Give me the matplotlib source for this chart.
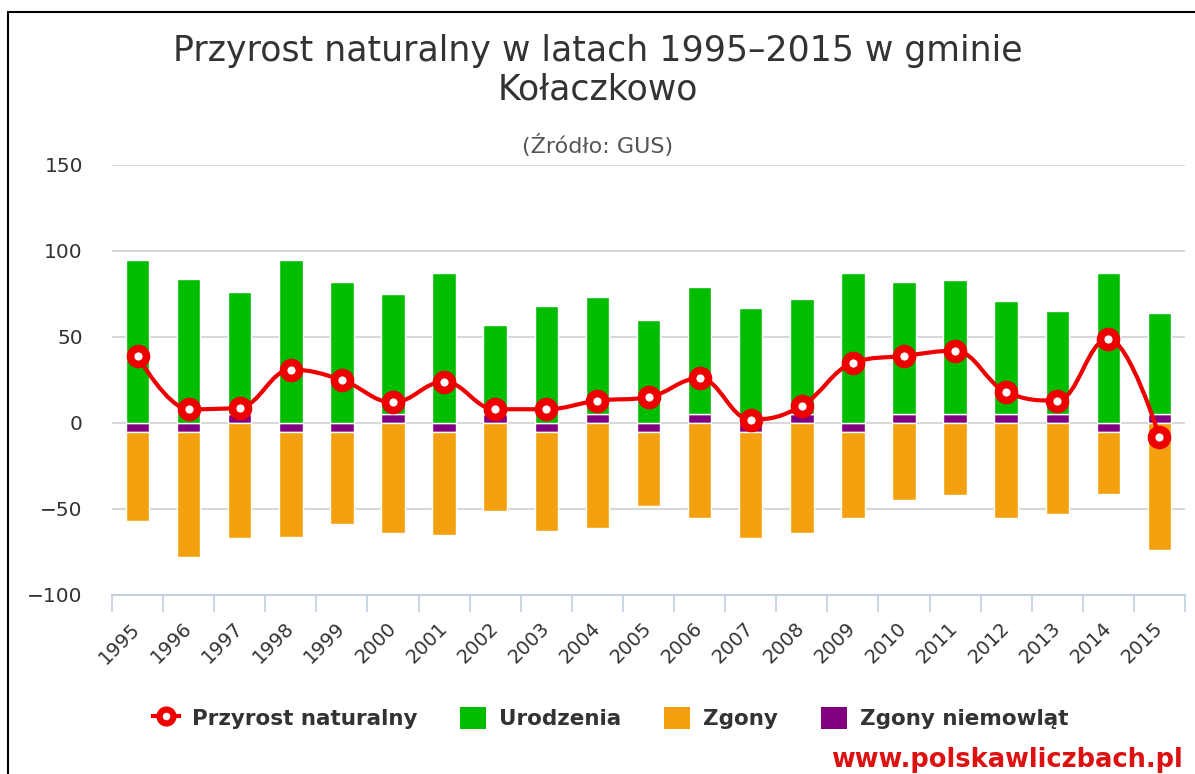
import numpy as np
import matplotlib.pyplot as plt
from matplotlib.path import Path
from matplotlib.patches import PathPatch, Patch, Rectangle
from matplotlib.lines import Line2D

# ===============================
#  DATA
# ===============================
lata = [str(r) for r in range(1995, 2016)]

urodzenia = [95, 84, 71, 95, 82, 70, 87, 52, 68, 68, 60,
             74, 67, 67, 87, 77, 78, 66, 60, 87, 59]
zgony = [-52, -73, -67, -61, -54, -64, -60, -51, -58, -61, -43,
         -55, -62, -64, -50, -45, -42, -55, -53, -36, -74]
# zgony niemowlat - drawn as small bars, above or below zero
zgony_niemowlat = [-5, -5, 5, -5, -5, 5, -5, 5, -5, 5, -5,
                   5, -5, 5, -5, 5, 5, 5, 5, -5, 5]
przyrost = [39, 8, 9, 31, 25, 12, 24, 8, 8, 13, 15,
            26, 2, 10, 35, 39, 42, 18, 13, 49, -8]

y_ticks = [-100, -50, 0, 50, 100, 150]

# ===============================
#  STYLE
# ===============================
GREEN = "#00bd00"
ORANGE = "#f5a00e"
PURPLE = "#800080"
RED = "#ee0000"
TEXT = "#333333"
GRID = "#d8d8d8"
AXIS = "#c0d0e0"


def spline_path(xs, ys, smoothing=1.5):
    """Highcharts-like spline through the points, as cubic bezier path"""
    n = len(xs)
    left = [(x, y) for x, y in zip(xs, ys)]
    right = [(x, y) for x, y in zip(xs, ys)]
    denom = smoothing + 1
    for i in range(1, n - 1):
        lx, ly = xs[i - 1], ys[i - 1]
        px, py = xs[i], ys[i]
        nx, ny = xs[i + 1], ys[i + 1]
        lcx = (smoothing * px + lx) / denom
        lcy = (smoothing * py + ly) / denom
        rcx = (smoothing * px + nx) / denom
        rcy = (smoothing * py + ny) / denom
        corr = (rcy - lcy) * (rcx - px) / (rcx - lcx) + py - rcy
        lcy += corr
        rcy += corr
        if lcy > ly and lcy > py:
            lcy = max(ly, py)
            rcy = 2 * py - lcy
        elif lcy < ly and lcy < py:
            lcy = min(ly, py)
            rcy = 2 * py - lcy
        if rcy > ny and rcy > py:
            rcy = max(ny, py)
            lcy = 2 * py - rcy
        elif rcy < ny and rcy < py:
            rcy = min(ny, py)
            lcy = 2 * py - rcy
        left[i] = (lcx, lcy)
        right[i] = (rcx, rcy)

    verts = [(xs[0], ys[0])]
    codes = [Path.MOVETO]
    for i in range(1, n):
        verts += [right[i - 1], left[i], (xs[i], ys[i])]
        codes += [Path.CURVE4] * 3
    return Path(verts, codes)


fig = plt.figure(figsize=(11.95, 7.74), dpi=100)
ax = fig.add_axes([112 / 1195, 1 - 595 / 774, (1185 - 112) / 1195, (595 - 165) / 774])

x = np.arange(len(lata))
niem = np.array(zgony_niemowlat)
bar_w = 0.46

# stacked columns
ax.bar(x, niem, width=bar_w, color=PURPLE, edgecolor="white", linewidth=1, zorder=2)
ax.bar(x, urodzenia, bottom=np.maximum(niem, 0), width=bar_w, color=GREEN,
       edgecolor="white", linewidth=1, zorder=2)
ax.bar(x, zgony, bottom=np.minimum(niem, 0), width=bar_w, color=ORANGE,
       edgecolor="white", linewidth=1, zorder=2)

# spline line with markers
ax.add_patch(PathPatch(spline_path(list(x), przyrost), facecolor="none",
                       edgecolor=RED, linewidth=3, zorder=3))
ax.plot(x, przyrost, linestyle="none", marker="o", markersize=11.5,
        markerfacecolor="white", markeredgecolor=RED, markeredgewidth=5.5, zorder=4)

# axes
ax.set_xlim(-0.5, len(lata) - 0.5)
ax.set_ylim(-100, 150)
ax.set_yticks(y_ticks)
ax.set_yticklabels([f"{v}".replace("-", "\u2212") for v in y_ticks])
for v in y_ticks[1:]:
    ax.axhline(v, color=GRID, linewidth=1.5, zorder=1)

ax.set_xticks(x)
ax.set_xticklabels(lata, rotation=45, ha="right", va="center", rotation_mode="anchor")
ax.set_xticks(np.arange(len(lata) + 1) - 0.5, minor=True)
ax.tick_params(axis="x", which="major", length=0, pad=22, labelsize=14, labelcolor=TEXT)
ax.tick_params(axis="x", which="minor", length=12, width=1.2, color=AXIS)
ax.tick_params(axis="y", length=0, pad=21, labelsize=14.5, labelcolor=TEXT)

for side in ["top", "right", "left"]:
    ax.spines[side].set_visible(False)
ax.spines["bottom"].set_color(AXIS)
ax.spines["bottom"].set_linewidth(1.5)

# titles
fig.text(0.5, 1 - 70 / 774, "Przyrost naturalny w latach 1995\u20132015 w gminie\nKołaczkowo",
         ha="center", va="center", fontsize=25, color=TEXT, linespacing=1.15)
fig.text(0.5, 1 - 146 / 774, "(Źródło: GUS)", ha="center", va="center",
         fontsize=16, color="#555555")

# legend
handles = [
    Line2D([0], [0], color=RED, linewidth=3, marker="o", markersize=10,
           markerfacecolor="white", markeredgecolor=RED, markeredgewidth=4.5),
    Patch(facecolor=GREEN),
    Patch(facecolor=ORANGE),
    Patch(facecolor=PURPLE),
]
labels = ["Przyrost naturalny", "Urodzenia", "Zgony", "Zgony niemowląt"]
leg = fig.legend(handles, labels, loc="center", bbox_to_anchor=(0.511, 1 - 718 / 774),
                 ncol=4, frameon=False, handlelength=1.2, handleheight=1.2,
                 columnspacing=2.0, handletextpad=0.6,
                 prop={"weight": "bold", "size": 15.5})
for t in leg.get_texts():
    t.set_color(TEXT)

fig.text(1183 / 1195, 1 - 760 / 774, "www.polskawliczbach.pl", ha="right", va="center",
         fontsize=18.5, fontweight="bold", color="#dd1111")

# outer frame
fig.add_artist(Rectangle((8 / 1195, -0.1), 1.2, 1.1 - 12 / 774, fill=False,
                         edgecolor="black", linewidth=1.5, transform=fig.transFigure))

fig.savefig("out.png", dpi=100)
